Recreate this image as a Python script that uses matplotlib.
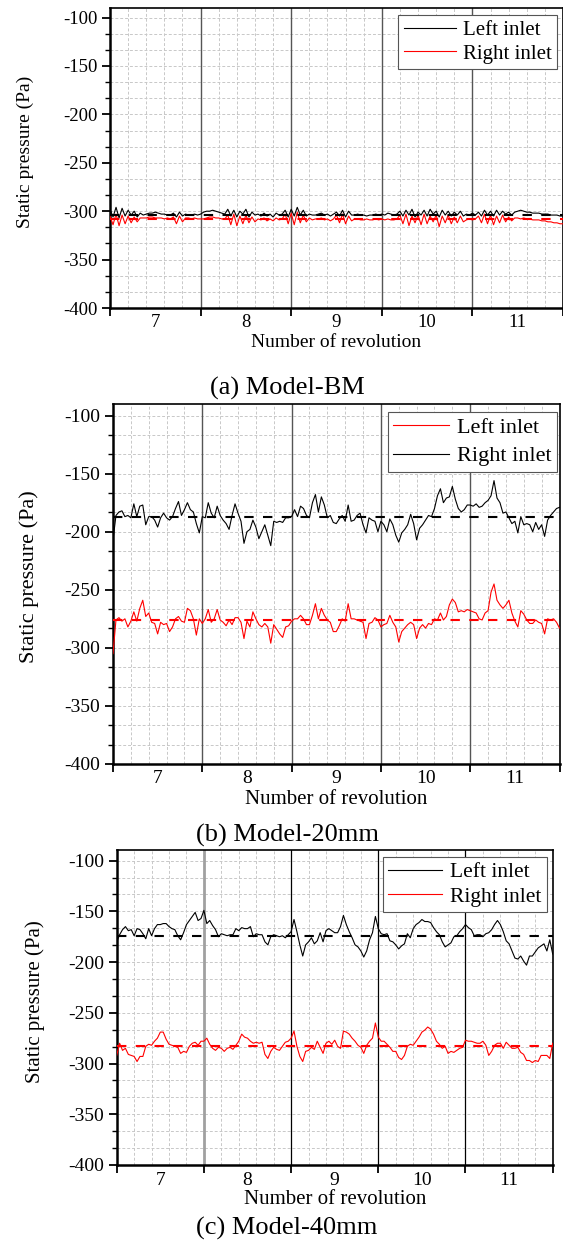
import numpy as np
import matplotlib.pyplot as plt
from matplotlib.ticker import MultipleLocator

plt.rcParams['font.family'] = ['Liberation Serif', 'DejaVu Serif']

# revolution axis (samples read every 1/30 revolution)
rev = np.linspace(6.5, 11.5, 151)
rev_labels = [7, 8, 9, 10, 11]
p_ticks = [-100, -150, -200, -250, -300, -350, -400]

# (a) Model-BM
bm_left = [-298, -306, -296, -307, -297, -305, -299, -304, -300, -306, -302,
           -304, -303, -302, -302, -301, -302, -303, -303, -304, -304,
           -302, -306, -301, -305, -303, -304, -304, -303, -304, -303,
           -301, -300, -300, -299, -300, -301, -302, -303,
           -298, -305, -299, -306, -300, -303, -298, -306, -301, -304,
           -303, -305, -302, -305, -303, -306, -302, -304, -303,
           -299, -306, -298, -305, -296, -304, -299, -305,
           -303, -304, -304, -303, -302, -304, -303, -305, -303,
           -301, -305, -299, -306, -300, -304,
           -304, -303, -304, -304, -305, -304, -304, -303, -304,
           -303, -304, -302, -303, -304, -303,
           -300, -305, -299, -304, -298, -306, -301, -304, -299, -305, -298,
           -303, -300, -306, -299, -304, -300, -305, -301, -304, -300, -305,
           -303, -304, -302, -304,
           -301, -305, -299, -304, -300, -305, -299, -304, -300, -303, -301, -304,
           -301, -300, -299, -300, -301, -301, -302, -302,
           -302, -303, -303, -303, -304, -304, -304, -305, -305]
bm_right = [-305, -314, -303, -315, -304, -313, -305, -312, -306, -311, -307,
            -307, -307, -306, -306, -307, -307, -307, -308, -307, -308,
            -306, -313, -305, -311, -307, -307, -308, -307, -308, -308,
            -308, -307, -306, -306, -307, -307, -308, -308,
            -304, -314, -303, -315, -305, -313, -304, -312, -306, -311,
            -308, -309, -307, -310, -308, -310, -307, -309, -308,
            -303, -313, -302, -314, -301, -312, -304, -311,
            -307, -309, -308, -308, -307, -309, -308, -310, -308,
            -304, -312, -303, -313, -305, -310,
            -308, -308, -309, -309, -308, -309, -309, -308, -309,
            -308, -309, -308, -309, -309, -308,
            -304, -313, -303, -315, -305, -312, -304, -314, -303, -313, -305,
            -311, -304, -316, -305, -312, -304, -313, -306, -312, -305, -311,
            -309, -308, -309, -308,
            -305, -312, -303, -313, -304, -314, -305, -312, -304, -311, -306, -310,
            -307, -307, -308, -307, -308, -308, -309, -309,
            -309, -310, -310, -311, -311, -312, -312, -313, -313]
bm_means = [-304, -308.5]

# (b) Model-20mm
mm20_left = [-305, -276, -274, -277, -275, -282, -277, -269, -277, -266,
             -259, -273, -270, -278, -279, -288, -278, -280, -279, -286,
             -282, -275, -273, -277, -278, -266, -268, -275, -289, -275,
             -279, -275, -267, -278, -275, -267, -276, -278, -281, -276,
             -280, -274, -274, -278, -292, -277, -282, -269, -275, -280,
             -282, -279, -282, -296, -280, -284, -288, -291, -282, -281,
             -277, -275, -275, -272, -275, -280, -280, -272, -262, -275,
             -266, -272, -276, -278, -286, -286,
             -281, -275, -277, -262, -275, -275, -276, -277, -278, -292,
             -279, -278, -274, -276, -282, -280, -279, -272, -278, -282,
             -295, -286, -283, -280, -278, -280, -292, -283, -280, -283,
             -279, -280, -275, -276, -270, -276, -273, -263, -258, -261,
             -269, -268, -269, -267, -268, -269, -270, -275, -276, -270,
             -268, -252, -245, -259, -263, -266, -263, -259, -270, -277,
             -282, -268, -271, -276, -279, -279, -276, -278, -279, -288,
             -275, -276, -275, -278, -283]
mm20_right = [-207, -186, -183, -182, -187, -186, -188, -176, -187, -178,
              -177, -194, -187, -187, -190, -196, -188, -184, -188, -190,
              -187, -180, -174, -186, -181, -175, -181, -183, -193, -201,
              -187, -188, -175, -184, -188, -178, -186, -190, -193, -198,
              -186, -176, -184, -191, -210, -200, -198, -190, -196, -206,
              -200, -194, -203, -212, -191, -192, -191, -192, -188, -188,
              -187, -181, -187, -178, -180, -186, -188, -175, -168, -183,
              -170, -177, -188, -186, -192, -193,
              -189, -186, -191, -177, -191, -190, -186, -184, -194, -201,
              -188, -190, -191, -200, -191, -194, -200, -189, -194, -203,
              -209, -201, -198, -194, -185, -193, -207, -197, -194, -190,
              -186, -187, -180, -169, -163, -175, -171, -170, -161, -172,
              -180, -183, -181, -177, -177, -178, -176, -179, -178, -175,
              -173, -169, -156, -171, -175, -184, -183, -188, -193, -191,
              -201, -187, -194, -193, -194, -200, -192, -198, -194, -204,
              -190, -186, -183, -180, -179]
mm20_means = [-276, -187]

# (c) Model-40mm
mm40_left = [-180, -173, -168, -165, -169, -168, -174, -167, -168, -172,
             -177, -167, -174, -167, -163, -163, -162, -162, -165, -167,
             -168, -174, -178, -171, -163, -159, -155, -151, -159, -157,
             -149, -162, -159, -164, -168, -175, -172, -173, -174, -173,
             -173, -167, -169, -166, -167, -167, -165, -175, -172, -173,
             -173, -180, -183, -175, -173, -174, -175, -174, -176, -173,
             -170, -158, -170, -183, -194, -183, -180, -176, -182, -179,
             -171, -180, -169, -167, -169, -171,
             -171, -165, -154, -163, -170, -176, -183, -185, -189, -195,
             -189, -178, -171, -155, -167, -172, -173, -172, -179, -180,
             -183, -187, -184, -182, -172, -176, -167, -163, -161, -158,
             -160, -160, -161, -166, -170, -173, -180, -185, -183, -181,
             -175, -174, -170, -167, -163, -166, -168, -174, -173, -173,
             -175, -172, -171, -168, -163, -159, -163, -170, -179, -182,
             -189, -196, -197, -194, -199, -203, -194, -194, -190, -186,
             -184, -182, -189, -178, -192]
mm40_right = [-292, -280, -287, -285, -291, -292, -293, -298, -293, -293,
              -283, -281, -282, -278, -275, -269, -269, -276, -281, -282,
              -283, -284, -290, -288, -289, -283, -280, -279, -282, -278,
              -278, -275, -281, -285, -287, -284, -285, -288, -285, -284,
              -286, -282, -278, -271, -274, -275, -278, -280, -279, -280,
              -279, -291, -295, -288, -284, -286, -287, -283, -279, -278,
              -275, -268, -283, -293, -298, -288, -287, -284, -286, -278,
              -284, -290, -280, -278, -281, -277,
              -283, -285, -268, -269, -271, -275, -278, -282, -284, -290,
              -282, -278, -275, -260, -274, -278, -278, -281, -284, -288,
              -288, -294, -296, -292, -283, -281, -282, -278, -274, -269,
              -267, -264, -266, -271, -278, -281, -285, -283, -290, -288,
              -289, -287, -285, -284, -277, -278, -278, -279, -280, -280,
              -278, -282, -292, -288, -282, -280, -280, -285, -279, -282,
              -285, -285, -284, -289, -291, -297, -297, -299, -297, -298,
              -292, -292, -292, -295, -280]
mm40_means = [-174, -283]

fig = plt.figure(figsize=(5.63, 12.4), dpi=100)


def draw_panel(rect, ytop, series, means, leg_anchor, fs, sep_styles):
    ax = fig.add_axes(rect)
    ax.set_xlim(6.5, 11.5)
    ax.set_ylim(-400, ytop)

    # dashed light grid
    for xv in np.arange(6.7, 11.5, 0.2):
        if round((xv - 6.5) / 0.2) % 5 != 0:
            ax.axvline(xv, color='#c8c8c8', lw=0.7, ls=(0, (3, 2)), zorder=0)
    ax.yaxis.set_major_locator(MultipleLocator(50))
    ax.yaxis.set_minor_locator(MultipleLocator(50 / 3))
    ax.grid(axis='y', which='both', color='#c8c8c8', lw=0.7, ls=(0, (3, 2)))
    ax.set_axisbelow(True)

    # solid separators between revolutions
    for xv, (col, lw) in zip([7.5, 8.5, 9.5, 10.5], sep_styles):
        ax.axvline(xv, color=col, lw=lw, zorder=1)

    for (vals, col, lab), m in zip(series, means):
        ax.plot(rev, vals, color=col, lw=0.8, label=lab, zorder=3)
        ax.axhline(m, color=col, lw=1.5, dashes=(4.5, 4.5), zorder=4)

    ax.set_yticks(p_ticks)
    ax.set_yticklabels([str(v) for v in p_ticks])
    ax.set_xticks(rev_labels)
    ax.set_xticklabels([str(v) for v in rev_labels])
    ax.set_xticks(np.arange(6.5, 11.6, 1.0), minor=True)
    ax.tick_params(axis='y', which='major', direction='out', length=6,
                   width=1.3, labelsize=fs[0], pad=3)
    ax.tick_params(axis='y', which='minor', direction='out', length=3.5, width=1)
    ax.tick_params(axis='x', which='major', length=0, labelsize=fs[0], pad=fs[4])
    ax.tick_params(axis='x', which='minor', direction='out', length=6, width=1.3)
    for side in ['left', 'bottom']:
        ax.spines[side].set_linewidth(1.8)
    for side in ['top', 'right']:
        ax.spines[side].set_linewidth(1.2)

    ax.set_xlabel('Number of revolution', fontsize=fs[1])
    ax.xaxis.set_label_coords(0.5, fs[5])
    ax.xaxis.label.set_va('center')
    ax.set_ylabel('Static pressure (Pa)', fontsize=fs[2])
    ax.yaxis.set_label_coords(-0.188, 0.52)
    ax.yaxis.label.set_va('center')

    leg = ax.legend(loc='upper right', bbox_to_anchor=leg_anchor, borderaxespad=0,
                    fancybox=False, edgecolor='#555555', framealpha=1,
                    fontsize=fs[3], handlelength=2.5, handletextpad=0.35,
                    labelspacing=fs[6], borderpad=0.25)
    leg.get_frame().set_linewidth(0.8)
    return ax


dark = [('#555555', 1.0)] * 4

# (a)
draw_panel([0.1954, 0.7516, 0.8046, 0.2423], -89.7,
           [(bm_left, 'black', 'Left inlet'), (bm_right, 'red', 'Right inlet')],
           bm_means, (0.987, 0.975), [13.5, 14, 14, 15, 4.3, -0.116, 0.2], dark)
fig.text(287 / 563, 1 - 388 / 1240, '(a) Model-BM', fontsize=19, ha='center', va='center')

# (b)
draw_panel([0.2007, 0.3839, 0.7931, 0.2903], -90,
           [(mm20_left, 'red', 'Left inlet'), (mm20_right, 'black', 'Right inlet')],
           mm20_means, (0.994, 0.978), [14, 15, 16, 16, 4, -0.098, 0.35], dark)
fig.text(287 / 563, 1 - 835 / 1240, '(b) Model-20mm', fontsize=19, ha='center', va='center')

# (c)
draw_panel([0.2073, 0.0605, 0.7744, 0.254], -89.5,
           [(mm40_left, 'black', 'Left inlet'), (mm40_right, 'red', 'Right inlet')],
           mm40_means, (0.986, 0.978), [14, 15, 15, 15.5, 5, -0.111, 0.2],
           [('#a0a0a0', 2.0), ('black', 0.9), ('black', 0.9), ('black', 0.9)])
fig.text(287 / 563, 1 - 1228 / 1240, '(c) Model-40mm', fontsize=19, ha='center', va='center')

fig.savefig('out.png', dpi=100)
